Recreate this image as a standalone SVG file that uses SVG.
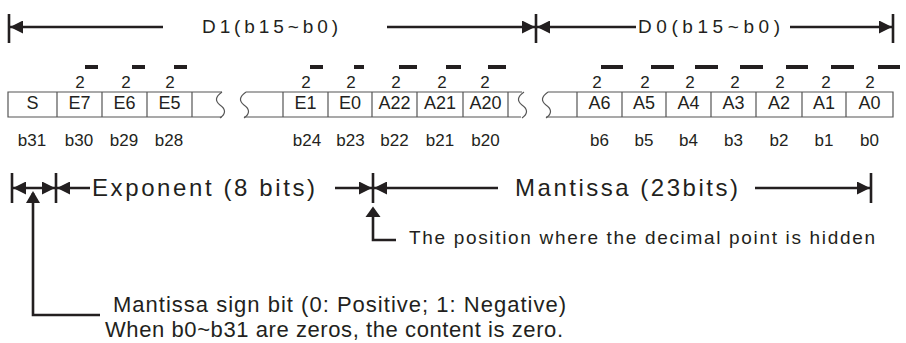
<svg xmlns="http://www.w3.org/2000/svg" width="906" height="343" viewBox="0 0 906 343">
<style>
text{font-family:"Liberation Sans",Arial,sans-serif;fill:#231f20}
.cell{font-size:18px;text-anchor:middle}
.pw{font-size:17px;text-anchor:middle}
.bl{font-size:17px;text-anchor:middle}
.dim{stroke:#231f20;stroke-width:2.6;fill:none}
.tick{stroke:#231f20;stroke-width:2.6}
.ah{fill:#231f20}
.box{stroke:#555;stroke-width:1.2;fill:none}
.bar{fill:#231f20}
</style>
<defs>
<marker id="ar" viewBox="0 0 13 13" refX="13" refY="6.5" markerWidth="13" markerHeight="13" markerUnits="userSpaceOnUse" orient="auto-start-reverse">
<path d="M0,0 L13,6.5 L0,13 Z" class="ah"/>
</marker>
</defs>

<g id="register">
<path class="box" d="M222,92 H8 V117 H222"/>
<path class="box" d="M222,92 C215,97 215,101 220,105 C226,109 226,114 220,118"/>
<path class="box" d="M246,92 C239,97 239,101 244,105 C250,109 250,114 244,118"/>
<path class="box" d="M246,92 H522 M244,117 H521"/>
<path class="box" d="M524,92 C517,97 517,101 522,105 C528,109 528,114 522,118"/>
<path class="box" d="M548,92 C541,97 541,101 546,105 C552,109 552,114 546,118"/>
<path class="box" d="M548,92 H893 V117 H546"/>
<path class="box" d="M57,92V117M102,92V117M147,92V117M192,92V117M283,92V117M328,92V117M372,92V117M417,92V117M463,92V117M508,92V117M577,92V117M622,92V117M666,92V117M711,92V117M756,92V117M802,92V117M846,92V117"/>
<text class="cell" x="32.5" y="108.5">S</text>
<text class="cell" x="79.5" y="108.5">E7</text>
<text class="cell" x="124.5" y="108.5">E6</text>
<text class="cell" x="169.5" y="108.5">E5</text>
<text class="cell" x="305.5" y="108.5">E1</text>
<text class="cell" x="350" y="108.5">E0</text>
<text class="cell" x="394.5" y="108.5">A22</text>
<text class="cell" x="440" y="108.5">A21</text>
<text class="cell" x="485.5" y="108.5">A20</text>
<text class="cell" x="599.5" y="108.5">A6</text>
<text class="cell" x="644" y="108.5">A5</text>
<text class="cell" x="688.5" y="108.5">A4</text>
<text class="cell" x="733.5" y="108.5">A3</text>
<text class="cell" x="779" y="108.5">A2</text>
<text class="cell" x="824" y="108.5">A1</text>
<text class="cell" x="869.5" y="108.5">A0</text>
</g>

<g id="powers">
<text class="pw" x="80" y="88">2</text>
<text class="pw" x="126" y="88">2</text>
<text class="pw" x="170" y="88">2</text>
<text class="pw" x="306" y="88">2</text>
<text class="pw" x="351" y="88">2</text>
<text class="pw" x="396" y="88">2</text>
<text class="pw" x="442" y="88">2</text>
<text class="pw" x="485" y="88">2</text>
<text class="pw" x="597" y="88">2</text>
<text class="pw" x="645" y="88">2</text>
<text class="pw" x="690" y="88">2</text>
<text class="pw" x="735" y="88">2</text>
<text class="pw" x="780" y="88">2</text>
<text class="pw" x="826" y="88">2</text>
<text class="pw" x="870" y="88">2</text>
<rect class="bar" x="85" y="65" width="13" height="4"/>
<rect class="bar" x="132" y="65" width="13" height="4"/>
<rect class="bar" x="174" y="65" width="13" height="4"/>
<rect class="bar" x="310" y="65" width="13" height="4"/>
<rect class="bar" x="354" y="65" width="10" height="4"/>
<rect class="bar" x="399" y="65" width="18" height="4"/>
<rect class="bar" x="446" y="65" width="15" height="4"/>
<rect class="bar" x="488" y="65" width="18" height="4"/>
<rect class="bar" x="601" y="65" width="22" height="4"/>
<rect class="bar" x="651" y="65" width="23" height="4"/>
<rect class="bar" x="695" y="65" width="23" height="4"/>
<rect class="bar" x="740" y="65" width="23" height="4"/>
<rect class="bar" x="786" y="65" width="22" height="4"/>
<rect class="bar" x="831" y="65" width="23" height="4"/>
<rect class="bar" x="878" y="65" width="22" height="4"/>
</g>

<g id="bit-labels">
<text class="bl" x="32" y="146">b31</text>
<text class="bl" x="79" y="146">b30</text>
<text class="bl" x="124" y="146">b29</text>
<text class="bl" x="169" y="146">b28</text>
<text class="bl" x="307" y="146">b24</text>
<text class="bl" x="350.5" y="146">b23</text>
<text class="bl" x="394.5" y="146">b22</text>
<text class="bl" x="440" y="146">b21</text>
<text class="bl" x="485.5" y="146">b20</text>
<text class="bl" x="599.5" y="146">b6</text>
<text class="bl" x="644" y="146">b5</text>
<text class="bl" x="688.5" y="146">b4</text>
<text class="bl" x="733.5" y="146">b3</text>
<text class="bl" x="779" y="146">b2</text>
<text class="bl" x="824" y="146">b1</text>
<text class="bl" x="869.5" y="146">b0</text>
</g>

<g id="top-labels">
<text x="202" y="33" font-size="19" textLength="136" lengthAdjust="spacing">D1(b15~b0)</text>
<text x="638" y="33" font-size="19" textLength="142" lengthAdjust="spacing">D0(b15~b0)</text>
</g>

<g id="field-labels">
<text x="92" y="196" font-size="24" textLength="223" lengthAdjust="spacing">Exponent (8 bits)</text>
<text x="515" y="196" font-size="24" textLength="223" lengthAdjust="spacing">Mantissa (23bits)</text>
<text x="409" y="244" font-size="19" textLength="466" lengthAdjust="spacing">The position where the decimal point is hidden</text>
<text x="113" y="312" font-size="22" textLength="453" lengthAdjust="spacing">Mantissa sign bit (0: Positive; 1: Negative)</text>
<text x="105" y="337" font-size="22" textLength="458" lengthAdjust="spacing">When b0~b31 are zeros, the content is zero.</text>
</g>

<g id="connectors">
<path class="tick" d="M9,14V43M536,14V43M893,14V43"/>
<path class="dim" d="M163,27H10" marker-end="url(#ar)"/>
<path class="dim" d="M387,27H535" marker-end="url(#ar)"/>
<path class="dim" d="M636,27H537" marker-end="url(#ar)"/>
<path class="dim" d="M790,27H892" marker-end="url(#ar)"/>
<path class="tick" d="M12,173V203M56,173V203M373,173V203M871,173V203"/>
<path class="dim" d="M13,188H55" marker-start="url(#ar)" marker-end="url(#ar)"/>
<path class="dim" d="M90,188H57" marker-end="url(#ar)"/>
<path class="dim" d="M335,188H372" marker-end="url(#ar)"/>
<path class="dim" d="M498,188H374" marker-end="url(#ar)"/>
<path class="dim" d="M755,188H870" marker-end="url(#ar)"/>
<path class="dim" stroke-width="3.4" d="M100,315H33V193"/>
<path class="ah" d="M33,191L40,203H26Z"/>
<path class="dim" stroke-width="3.4" d="M396,240H373V209"/>
<path class="ah" d="M373,206.5L380.5,217H365.5Z"/>
</g>
</svg>
